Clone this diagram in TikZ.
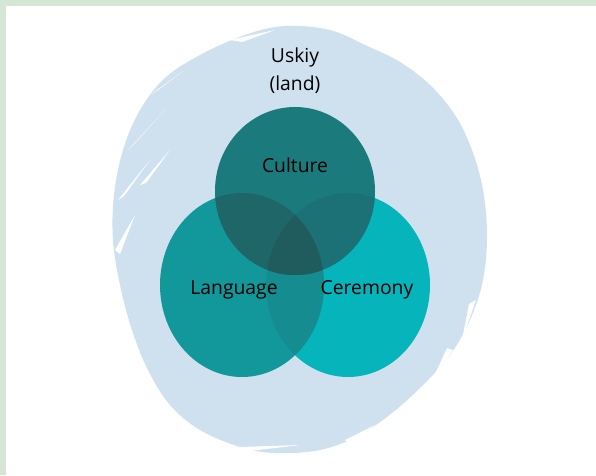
\documentclass[tikz,border=0pt]{standalone}
\usepackage{fontspec}
\setmainfont{Open Sans}
\usepackage{tikz}
\usetikzlibrary{shapes.geometric}
\definecolor{framegreen}{HTML}{D5E6D4}
\definecolor{brushblue}{HTML}{CFE1EF}
\definecolor{culturecol}{HTML}{1B7B7C}
\definecolor{languagecol}{HTML}{12989B}
\definecolor{ceremonycol}{HTML}{06B4BC}
\definecolor{lecol}{HTML}{158C90}
\definecolor{clcol}{HTML}{1F6668}
\definecolor{cecol}{HTML}{1B7175}
\definecolor{allcol}{HTML}{205B5E}
\tikzstyle{venn} = [ellipse, inner sep=0pt, outer sep=0pt]
\tikzstyle{venntext} = [font=\fontsize{16.5}{24}\selectfont, text=black, align=center]
\tikzstyle{gap} = [fill=white]

\begin{document}
\begin{tikzpicture}[x=0.03cm, y=-0.03cm]
                \useasboundingbox (0,0) rectangle (596,475);
                \fill[framegreen] (0,0) rectangle (596,475);
                \fill[white] (6,6) rectangle (596,475);

                % brush stroke behind the circles
                \fill[brushblue] plot[smooth cycle, tension=0.6] coordinates {
                    (285,26) (330,30) (365,45) (400,62) (430,85) (455,115)
                    (472,150) (483,190) (487,235) (483,280) (470,320) (450,355)
                    (423,385) (392,413) (358,436) (320,450) (275,453) (240,447)
                    (200,430) (170,405) (148,370) (132,330) (120,285) (113,240)
                    (114,195) (123,150) (140,110) (165,78) (200,55) (245,35)};
                \fill[gap] (150,95) -- (185,70) -- (158,90) -- cycle;
                \fill[gap] (128,150) -- (165,110) -- (136,142) -- cycle;
                \fill[gap] (118,200) -- (150,160) -- (124,196) -- cycle;
                \fill[gap] (140,185) -- (170,150) -- (146,183) -- cycle;
                \fill[gap] (115,250) -- (135,215) -- (120,254) -- cycle;
                \fill[gap] (230,40) -- (275,30) -- (242,42) -- cycle;
                \fill[gap] (476,300) -- (462,340) -- (469,304) -- cycle;
                \fill[gap] (453,350) -- (430,385) -- (447,348) -- cycle;
                \fill[gap] (438,385) -- (408,410) -- (430,381) -- cycle;
                \fill[gap] (345,440) -- (375,425) -- (350,445) -- cycle;
                \fill[gap] (240,447) -- (300,445) -- (250,451) -- cycle;

                % circles
                \node (ceremony) [venn, fill=ceremonycol, minimum width=4.92cm, minimum height=5.52cm] at (348,285) {};
                \node (language) [venn, fill=languagecol, minimum width=4.92cm, minimum height=5.52cm] at (242,285) {};
                \begin{scope}
                    \clip (language.center) ellipse [x radius=82, y radius=92];
                    \fill[lecol] (ceremony.center) ellipse [x radius=82, y radius=92];
                \end{scope}
                \node (culture) [venn, fill=culturecol, minimum width=4.8cm, minimum height=5.04cm] at (295,191) {};
                \begin{scope}
                    \clip (culture.center) ellipse [x radius=80, y radius=84];
                    \fill[clcol] (language.center) ellipse [x radius=82, y radius=92];
                    \fill[cecol] (ceremony.center) ellipse [x radius=82, y radius=92];
                    \clip (language.center) ellipse [x radius=82, y radius=92];
                    \fill[allcol] (ceremony.center) ellipse [x radius=82, y radius=92];
                \end{scope}

                % labels
                \node (land) [venntext] at (295,71) {Uskiy\\(land)};
                \node (culturetext) [venntext] at (295,165) {Culture};
                \node (languagetext) [venntext] at (234,290) {Language};
                \node (ceremonytext) [venntext] at (367,290) {Ceremony};
            \end{tikzpicture}
\end{document}
